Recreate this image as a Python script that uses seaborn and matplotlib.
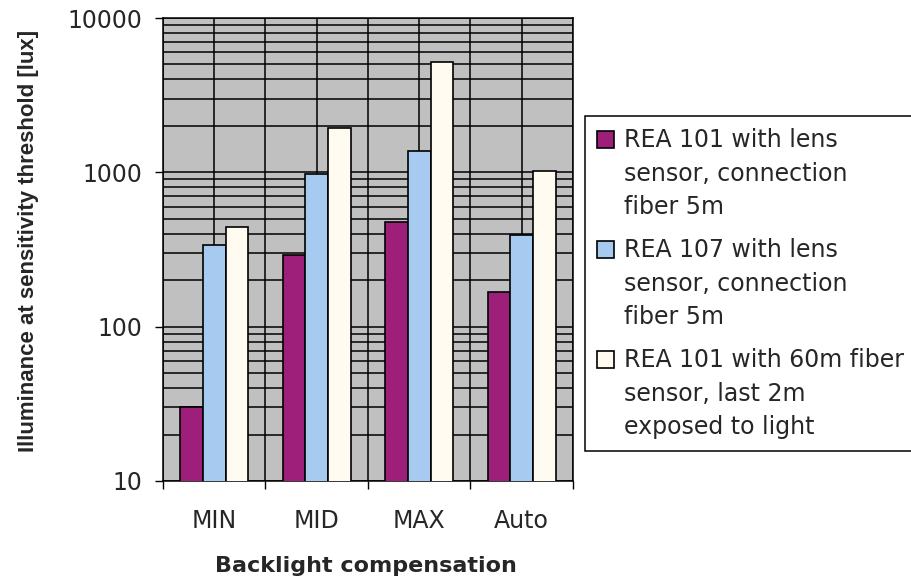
import matplotlib
matplotlib.use("Agg")
import matplotlib.pyplot as plt
import matplotlib.ticker as mticker
from matplotlib.patches import Rectangle
from matplotlib.legend_handler import HandlerPatch
import seaborn as sns
import pandas as pd

categories = ["MIN", "MID", "MAX", "Auto"]
series_names = [
    "REA 101 with lens\nsensor, connection\nfiber 5m",
    "REA 107 with lens\nsensor, connection\nfiber 5m",
    "REA 101 with 60m fiber\nsensor, last 2m\nexposed to light",
]
rea101_lens = [30, 290, 480, 168]
rea107_lens = [340, 980, 1380, 390]
rea101_fiber = [445, 1950, 5200, 1020]
colors = ["#9E1F7A", "#A6CAF0", "#FFFBF0"]
y_ticks = [10, 100, 1000, 10000]

rows = []
for name, vals in zip(series_names, [rea101_lens, rea107_lens, rea101_fiber]):
    for c, v in zip(categories, vals):
        rows.append({"cat": c, "series": name, "val": v})
df = pd.DataFrame(rows)

sns.set_style("white")
plt.rcParams["font.family"] = ["DejaVu Sans"]
FS = 17
LFS = 17

fig = plt.figure(figsize=(9.12, 5.81), dpi=100)
ax = fig.add_axes([163/912, 1-481/581, 410/912, 463/581])
ax.set_yscale("log")
sns.barplot(data=df, x="cat", y="val", hue="series", order=categories,
            hue_order=series_names, palette=colors, width=0.66,
            edgecolor="black", linewidth=1.2, saturation=1, ax=ax,
            legend=False, zorder=3)

ax.set_facecolor("#C0C0C0")
ax.set_ylim(10, 10000)
ax.set_xlim(-0.5, len(categories) - 0.5)
ax.yaxis.set_major_locator(mticker.FixedLocator(y_ticks))
ax.yaxis.set_major_formatter(mticker.FixedFormatter([str(t) for t in y_ticks]))
ax.yaxis.set_minor_locator(mticker.LogLocator(base=10, subs=range(2, 10)))
ax.yaxis.set_minor_formatter(mticker.NullFormatter())
ax.xaxis.set_minor_locator(mticker.FixedLocator([i - 0.5 for i in range(len(categories) + 1)]))
ax.set_axisbelow(True)
ax.grid(True, which="both", axis="both", color="black", linewidth=1.1, zorder=0)

ax.tick_params(axis="y", which="major", direction="out", length=6, width=1,
               color="black", pad=9, labelsize=FS, left=True)
ax.tick_params(axis="y", which="minor", length=0)
ax.tick_params(axis="x", which="major", length=0, pad=20, labelsize=FS)
ax.tick_params(axis="x", which="minor", direction="out", length=6, width=1,
               color="black", bottom=True)
for s in ax.spines.values():
    s.set_color("black")
    s.set_linewidth(1.1)

ax.set_xlabel("Backlight compensation", fontsize=16, fontweight="bold")
ax.xaxis.set_label_coords(0.496, -0.162)
ax.set_ylabel("Illuminance at sensitivity threshold [lux]", fontsize=16,
              fontweight="bold", family=["Liberation Sans", "DejaVu Sans"])
ax.yaxis.set_label_coords(-0.302, 0.518)

LS = 1.5

def first_line_patch(legend, orig_handle, xdescent, ydescent, width, height, fontsize):
    shift = LS * fontsize
    return Rectangle((-xdescent, -ydescent + shift), width, height)

handles = [Rectangle((0, 0), 1, 1, facecolor=c, edgecolor="black", linewidth=1.2)
           for c in colors]
leg = fig.legend(handles, series_names, loc="upper left",
                 bbox_to_anchor=(585/912, 1-116/581), borderaxespad=0,
                 fontsize=LFS, frameon=True, fancybox=False, shadow=False,
                 edgecolor="black", framealpha=1, handlelength=0.7,
                 handleheight=0.7, handletextpad=0.45, labelspacing=0.8,
                 borderpad=0.52,
                 handler_map={Rectangle: HandlerPatch(patch_func=first_line_patch)})
leg.get_frame().set_linewidth(1.1)
for t in leg.get_texts():
    t.set_linespacing(LS)

fig.savefig("out.png", dpi=100)
